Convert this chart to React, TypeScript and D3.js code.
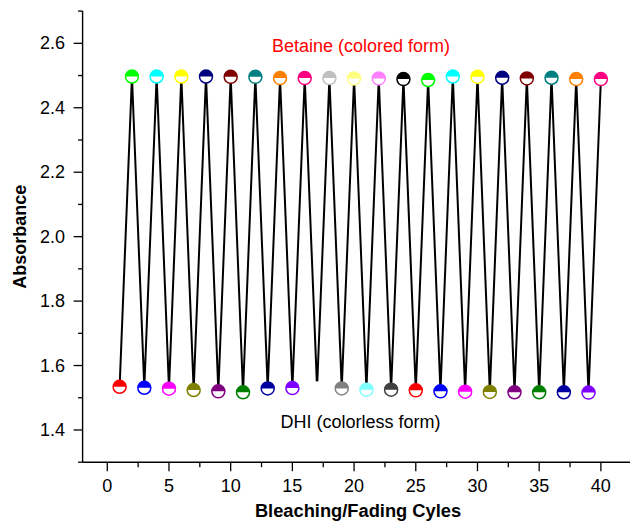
import React from "react";
import * as d3 from "d3";

const cycles = [1,2,3,4,5,6,7,8,9,10,11,12,13,14,15,16,17,18,19,20,21,22,23,24,25,26,27,28,29,30,31,32,33,34,35,36,37,38,39,40];
const absorbance = [
  1.534, 2.497, 1.531, 2.497, 1.528, 2.497, 1.524, 2.497, 1.520, 2.496,
  1.517, 2.496, 1.529, 2.492, 1.530, 2.492, 1.529, 2.492, 1.529, 2.491,
  1.525, 2.491, 1.525, 2.489, 1.523, 2.486, 1.520, 2.497, 1.519, 2.496,
  1.518, 2.493, 1.517, 2.491, 1.517, 2.493, 1.517, 2.489, 1.516, 2.489,
];
const markerColors = [
  "#FF0000", "#00FF00", "#0000FF", "#00FFFF", "#FF00FF", "#FFFF00", "#808000", "#000080",
  "#800080", "#800000", "#008000", "#008080", "#0000A0", "#FF8000", "#8000FF", "#FF0080",
  "#FFFFFF", "#C0C0C0", "#808080", "#FFFF80", "#80FFFF", "#FF80FF", "#404040", "#000000",
  "#FF0000", "#00FF00", "#0000FF", "#00FFFF", "#FF00FF", "#FFFF00", "#808000", "#000080",
  "#800080", "#800000", "#008000", "#008080", "#0000A0", "#FF8000", "#8000FF", "#FF0080",
];
const xMajorTicks = [0, 5, 10, 15, 20, 25, 30, 35, 40];
const xMinorTicks = [2.5, 7.5, 12.5, 17.5, 22.5, 27.5, 32.5, 37.5, 42.5];
const yMajorTicks = [1.4, 1.6, 1.8, 2.0, 2.2, 2.4, 2.6];
const yMinorTicks = [1.3, 1.5, 1.7, 1.9, 2.1, 2.3, 2.5, 2.7];

const FONT = "'Liberation Sans', Arial, Helvetica, sans-serif";

export default function App() {
  const W = 630, H = 523;
  const x = d3.scaleLinear().domain([-2, 45]).range([82.6, 82.6 + 47 * 12.34]);
  const y = d3.scaleLinear().domain([1.3, 2.7]).range([462.2, 11.1]);
  const x0 = x(-2);
  const y0 = y(1.3);
  const pts = cycles.map((c, i) => [c, absorbance[i]] as [number, number]);
  const line = d3.line<[number, number]>().x(d => x(d[0])).y(d => y(d[1]));
  const r = 6.5;
  const topHalf = d3.arc()({ innerRadius: 0, outerRadius: r, startAngle: -Math.PI / 2, endAngle: Math.PI / 2 } as any) as string;

  return (
    <svg width={W} height={H} style={{ position: "absolute", left: 0, top: 0, background: "#fff" }} fontFamily={FONT}>
      {/* axes */}
      <line x1={x0} x2={W} y1={y0} y2={y0} stroke="#000" strokeWidth={1.4} />
      <line x1={x0} x2={x0} y1={y(2.7)} y2={y0} stroke="#000" strokeWidth={1.4} />
      {xMajorTicks.map(t => (
        <g key={"xm" + t}>
          <line x1={x(t)} x2={x(t)} y1={y0} y2={y0 + 9} stroke="#000" strokeWidth={1.3} />
          <text x={x(t)} y={491.5} textAnchor="middle" fontSize={18} fill="#000">{t}</text>
        </g>
      ))}
      {xMinorTicks.map(t => (
        <line key={"xn" + t} x1={x(t)} x2={x(t)} y1={y0} y2={y0 + 5} stroke="#000" strokeWidth={1.3} />
      ))}
      {yMajorTicks.map(t => (
        <g key={"ym" + t}>
          <line x1={x0 - 9} x2={x0} y1={y(t)} y2={y(t)} stroke="#000" strokeWidth={1.3} />
          <text x={65} y={y(t)} textAnchor="end" dominantBaseline="central" fontSize={18} fill="#000">{t.toFixed(1)}</text>
        </g>
      ))}
      {yMinorTicks.map(t => (
        <line key={"yn" + t} x1={x0 - 4.5} x2={x0} y1={y(t)} y2={y(t)} stroke="#000" strokeWidth={1.3} />
      ))}
      <text x={358} y={517} textAnchor="middle" fontSize={18.3} fontWeight="bold" fill="#000">Bleaching/Fading Cyles</text>
      <text transform={`translate(26,${(y(2.7) + y0) / 2}) rotate(-90)`} textAnchor="middle" fontSize={18} fontWeight="bold" fill="#000">Absorbance</text>

      {/* data line */}
      <path d={line(pts) as string} fill="none" stroke="#000" strokeWidth={2} strokeLinejoin="miter" />

      {/* markers */}
      {pts.map((p, i) => (
        <g key={"m" + i} transform={`translate(${x(p[0])},${y(p[1])})`}>
          <circle r={r} fill="#fff" stroke={markerColors[i]} strokeWidth={1.5} />
          <path d={topHalf} fill={markerColors[i]} />
        </g>
      ))}

      {/* annotations */}
      <text x={361} y={52} textAnchor="middle" fontSize={18} fill="#FF0000">Betaine (colored form)</text>
      <text x={360.5} y={428} textAnchor="middle" fontSize={18} fill="#000">DHI (colorless form)</text>
    </svg>
  );
}
